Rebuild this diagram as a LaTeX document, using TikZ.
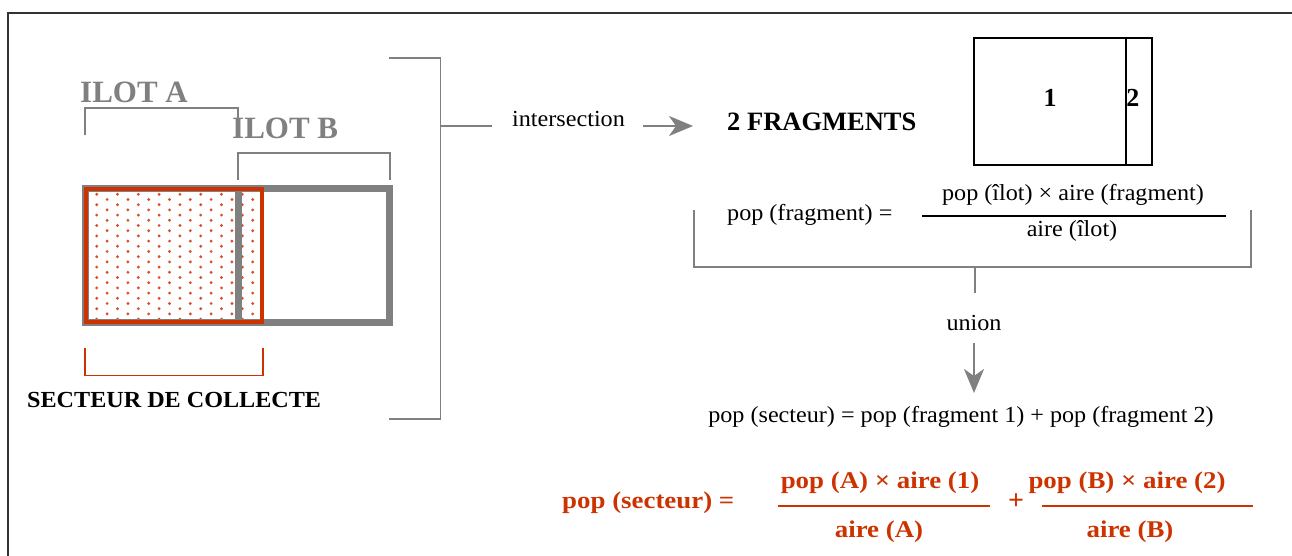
\documentclass[tikz,border=0pt]{standalone}
\usepackage{fontspec}
\setmainfont{Liberation Serif}
\newfontfamily\wideserif[FakeStretch=1.05]{Liberation Serif}
\newfontfamily\widerserif[FakeStretch=1.12]{Liberation Serif}
\usetikzlibrary{arrows.meta}

\definecolor{ilotgray}{HTML}{808080}
\definecolor{secred}{HTML}{CC3300}
\definecolor{framegray}{HTML}{333333}

\tikzset{
  txt/.style={inner sep=0pt, font=\wideserif\fontsize{23}{27}\selectfont},
  bold/.style={inner sep=0pt, font=\fontsize{24}{28}\selectfont\bfseries},
  ilot/.style={inner sep=0pt, text=ilotgray, font=\fontsize{31}{31}\selectfont\bfseries},
  redtxt/.style={inner sep=0pt, text=secred, font=\widerserif\fontsize{24}{28}\selectfont\bfseries},
  brk/.style={draw=ilotgray, line width=1.8pt},
  flow/.style={draw=ilotgray, line width=2pt, -{Stealth[length=24pt, width=20pt, inset=7pt]}},
  fragbox/.style={draw, line width=1.5pt, inner sep=0pt}
}

\begin{document}
\begin{tikzpicture}[x=1pt, y=-1pt]
\useasboundingbox (0,0) rectangle (1292,556);

% cadre
\draw[framegray, line width=1.5pt] (8,556) -- (8,13) -- (1292,13);

% points du secteur
\begin{scope}
\clip (88,191) rectangle (260.3,320);
\foreach \i in {-1,...,16}
  \foreach \j in {-1,...,13}
    \fill[secred!85] ({96.7+10.4*\i},{194.3+10.4*\j+5.2*mod(\i+2,2)}) circle (1.6pt);
\end{scope}

% ilots et secteur
\draw[ilotgray, line width=7pt] (85.5,188.5) rectangle (238,322.5);
\draw[ilotgray, line width=7pt] (238,188.5) rectangle (389.5,322.5);
\draw[secred, line width=4pt] (86,189.3) rectangle (262.3,322);

\node[ilot, anchor=base west] (ilotA) at (80,103) {ILOT A};
\node[ilot, anchor=base west] (ilotB) at (232,139) {ILOT B};
\draw[brk] (85,135) -- (85,108) -- (238,108) -- (238,118);
\draw[brk] (238,180) -- (238,153) -- (390,153) -- (390,180);

\draw[secred, line width=1.5pt] (85,348) -- (85,375.5) -- (263,375.5) -- (263,348);
\node[bold, font=\wideserif\fontsize{23}{27}\selectfont\bfseries, anchor=base west] (secteur) at (27,407) {SECTEUR DE COLLECTE};

% accolade
\draw[brk] (389,58) -- (440.5,58) -- (440.5,419) -- (389,419);
\draw[brk] (440.5,126) -- (491.7,126);

% intersection
\node[txt, anchor=base west] (inter) at (512,127) {intersection};
\node[bold, font=\fontsize{26.5}{30}\selectfont\bfseries, anchor=base west] (frags) at (727,131) {2 FRAGMENTS};
\draw[flow] ([xshift=18pt]inter.east |- 0,126) -- ([xshift=-34pt]frags.west |- 0,126);

\node[fragbox, minimum width=152pt, minimum height=127pt] (f1) at (1050,101.5) {};
\node[fragbox, minimum width=26pt, minimum height=127pt] (f2) at (1139,101.5) {};
\node[bold, font=\fontsize{26}{30}\selectfont\bfseries] (n1) at ([yshift=3.5pt]f1.center) {1};
\node[bold, font=\fontsize{26}{30}\selectfont\bfseries, anchor=west] (n2) at ([xshift=1pt,yshift=3.5pt]f2.west) {2};

% formule du fragment
\node[txt, anchor=west] (popfrag) at (727,215) {pop (fragment) =};
\node[txt] (numfrag) at (1073,195) {pop (îlot) × aire (fragment)};
\node[txt] (denfrag) at (1072,231) {aire (îlot)};
\draw[line width=1.5pt] (922,216) -- (1226,216);

\draw[brk] (694,210) -- (694,267) -- (1251,267) -- (1251,210);
\draw[brk] (975,267) -- (975,293);

% union
\node[txt] (union) at (974,323) {union};
\node[txt] (somme) at (961,417) {pop (secteur) = pop (fragment 1) + pop (fragment 2)};
\draw[flow] (974,343) -- (974,393);

% formule finale
\node[redtxt, anchor=base west] (popsect) at (562,508) {pop (secteur) =};
\node[redtxt, anchor=base] (numA) at (880,488) {pop (A) × aire (1)};
\node[redtxt, anchor=base] (denA) at (879,537) {aire (A)};
\draw[secred, line width=2pt] (778,506) -- (990,506);
\node[redtxt, font=\fontsize{28}{30}\selectfont\bfseries] (plus) at (1016,502) {+};
\node[redtxt, anchor=base] (numB) at (1127,488) {pop (B) × aire (2)};
\node[redtxt, anchor=base] (denB) at (1130,537) {aire (B)};
\draw[secred, line width=2pt] (1042,506) -- (1253,506);

\end{tikzpicture}
\end{document}
